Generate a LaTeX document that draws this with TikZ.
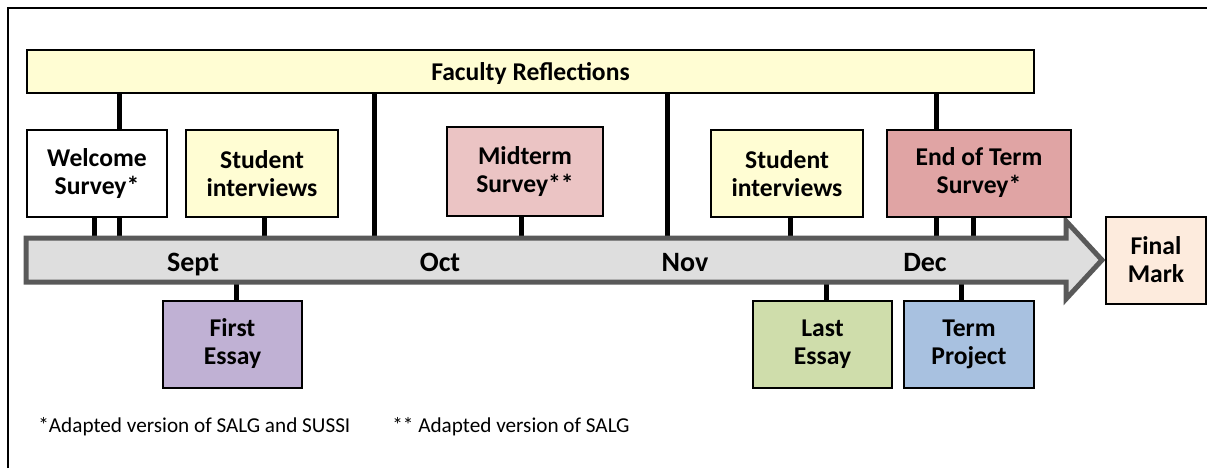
\documentclass[tikz,border=0pt]{standalone}
\usepackage{fontspec}
\setmainfont{Carlito}
\usetikzlibrary{positioning}
\pgfdeclarelayer{bg}
\pgfsetlayers{bg,main}
\definecolor{reflectyellow}{HTML}{FFFDD3}
\definecolor{midpink}{HTML}{EBC4C4}
\definecolor{endrose}{HTML}{E0A4A4}
\definecolor{essaylilac}{HTML}{C0B1D4}
\definecolor{essaygreen}{HTML}{CFDDAB}
\definecolor{projblue}{HTML}{A8C1E0}
\definecolor{markpeach}{HTML}{FDEBDD}
\definecolor{shaftgray}{HTML}{DEDEDE}
\definecolor{shaftedge}{HTML}{595959}
\tikzset{
	evbox/.style={draw=black, line width=1pt, align=center, inner sep=0pt, minimum height=43.5pt,
		font=\bfseries\fontsize{12.8}{14}\selectfont},
	stem/.style={line width=2.5pt, black},
	month/.style={anchor=base, inner sep=0pt, font=\bfseries\fontsize{14}{16}\selectfont},
	footnote/.style={anchor=west, inner sep=0pt, font=\fontsize{10.6}{12}\selectfont},
}

\begin{document}
\begin{tikzpicture}[x=0.5pt, y=-0.5pt]
	\useasboundingbox (0,0) rectangle (1207,468);
	\draw[line width=1pt] (8,468) -- (8,8) -- (1207,8);

	\coordinate (shafttop) at (26,238);
	\coordinate (shaftbot) at (26,282);
	\coordinate (tip) at (1102,260);
	\draw[line width=2.5pt, draw=shaftedge, fill=shaftgray]
		(shafttop) -- (1066,238) -- (1066,221) -- (tip) -- (1066,299) -- (1066,282) -- (shaftbot) -- cycle;

	\node (faculty) [evbox, fill=reflectyellow, minimum width=503.5pt, minimum height=21.5pt, text depth=0pt] at (530.5,71.5) {Faculty Reflections};
	\node (welcome) [evbox, fill=white, minimum width=70pt] at (97,173.5) {Welcome\\Survey*};
	\node (interview1) [evbox, fill=reflectyellow, minimum width=76pt] at (262,173.5) {Student\\interviews};
	\node (midterm) [evbox, fill=midpink, minimum width=78pt, minimum height=44.5pt] at (525,171.5) {Midterm\\Survey**};
	\node (interview2) [evbox, fill=reflectyellow, minimum width=76pt] at (787,173.5) {Student\\interviews};
	\node (endterm) [evbox, fill=endrose, minimum width=92pt] at (979,173) {End of Term\\Survey*};
	\node (firstessay) [evbox, fill=essaylilac, minimum width=69.5pt] at (232.5,344) {First\\Essay};
	\node (lastessay) [evbox, fill=essaygreen, minimum width=69.5pt] at (822.5,344.5) {Last\\Essay};
	\node (termproject) [evbox, fill=projblue, minimum width=65pt, right=5pt of lastessay] {Term\\Project};
	\node (finalmark) [evbox, fill=markpeach, minimum width=50pt, right=1.5pt of tip] {Final\\Mark};

	\node (sept) [month] at (193,271) {Sept};
	\node (oct) [month] at (440,271) {Oct};
	\node (nov) [month] at (685,271) {Nov};
	\node (dec) [month] at (925,271) {Dec};

	\node (note1) [footnote] at (38,427) {*Adapted version of SALG and SUSSI};
	\node (note2) [footnote] at (392,427) {** Adapted version of SALG};

	\begin{pgfonlayer}{bg}
		\draw[stem] (faculty.south -| 119,0) -- (welcome.north -| 119,0);
		\draw[stem] (faculty.south -| 936,0) -- (endterm.north -| 936,0);
		\foreach \sx in {374,667}
			\draw[stem] (faculty.south -| \sx,0) -- (shafttop -| \sx,0);
		\foreach \sx in {94,119}
			\draw[stem] (welcome.south -| \sx,0) -- (shafttop -| \sx,0);
		\draw[stem] (interview1.south -| 264,0) -- (shafttop -| 264,0);
		\draw[stem] (midterm.south -| 521,0) -- (shafttop -| 521,0);
		\draw[stem] (interview2.south -| 790,0) -- (shafttop -| 790,0);
		\foreach \sx in {936,973}
			\draw[stem] (endterm.south -| \sx,0) -- (shafttop -| \sx,0);
		\draw[stem] (shaftbot -| 236,0) -- (firstessay.north -| 236,0);
		\draw[stem] (shaftbot -| 826,0) -- (lastessay.north -| 826,0);
		\draw[stem] (shaftbot -| 961,0) -- (termproject.north -| 961,0);
	\end{pgfonlayer}
\end{tikzpicture}
\end{document}
